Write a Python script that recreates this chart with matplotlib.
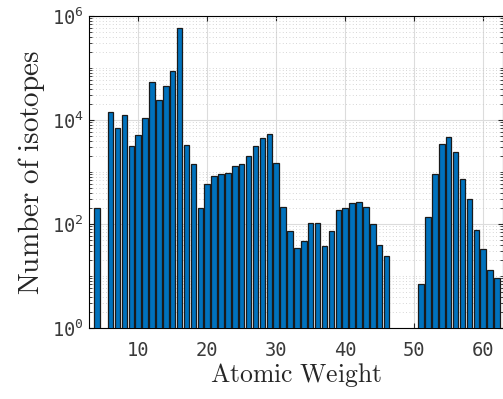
import matplotlib
matplotlib.use("Agg")
import matplotlib.pyplot as plt
from matplotlib.ticker import FixedLocator, LogFormatterSciNotation, NullFormatter
import numpy as np

# atomic weight bins and isotope counts
weights = list(range(4, 63))
counts = [200, 0, 14000, 7000, 12500, 3200, 5200, 11000, 53000, 24000,
          45000, 87000, 600000, 3250, 1400, 200, 600, 850, 920, 960,
          1290, 1400, 2000, 3200, 4570, 5400, 1500, 213, 74, 34,
          47, 103, 106, 37, 72, 190, 203, 257, 270, 210,
          101, 39, 24, 0, 0, 0, 0, 7, 134, 900,
          3500, 4700, 2450, 720, 300, 76, 33, 13, 9]

x_ticks = [10, 20, 30, 40, 50, 60]
y_major = [1e0, 1e2, 1e4, 1e6]

plt.rcParams['font.family'] = ['DejaVu Sans Mono']
plt.rcParams['axes.linewidth'] = 0.8

fig = plt.figure(figsize=(5.03, 3.99), dpi=100)
ax = fig.add_axes([89 / 503, 71 / 399, 414 / 503, 312 / 399])

heights = np.array(counts, dtype=float)
heights[heights <= 0] = np.nan
ax.bar(weights, heights, width=0.8, color='#0072BD', edgecolor='#1a1a1a',
       linewidth=0.9, zorder=3)

ax.set_yscale('log')
ax.set_ylim(1, 1e6)
ax.set_xlim(2.87, 62.87)

ax.set_xticks(x_ticks)
ax.yaxis.set_major_locator(FixedLocator(y_major))
ax.yaxis.set_major_formatter(LogFormatterSciNotation())
minor = [m * 10.0 ** k for k in range(0, 6) for m in range(2, 11) if m * 10.0 ** k < 1e6]
minor = [v for v in minor if v not in y_major]
ax.yaxis.set_minor_locator(FixedLocator(minor))
ax.yaxis.set_minor_formatter(NullFormatter())

ax.grid(True, which='major', color='#dcdcdc', linewidth=0.8, zorder=0)
ax.grid(True, which='minor', axis='y', color='#c8c8c8', linestyle=(0, (1, 3)),
        linewidth=0.6, zorder=0)
ax.set_axisbelow(True)

ax.tick_params(which='both', direction='in', top=True, right=True,
               colors='#262626', labelcolor='#3a3a3a', labelsize=13.5)
ax.tick_params(which='major', length=3.5)
ax.tick_params(which='minor', length=2)
ax.tick_params(axis='x', pad=9)

ax.set_xlabel(r'$\mathrm{Atomic\ Weight}$', fontsize=18.5, math_fontfamily='cm',
              color='#262626', labelpad=1)
ax.set_ylabel(r'$\mathrm{Number\ of\ isotopes}$', fontsize=21, math_fontfamily='cm',
              color='#262626', labelpad=4)

fig.savefig('out.png', dpi=100)
